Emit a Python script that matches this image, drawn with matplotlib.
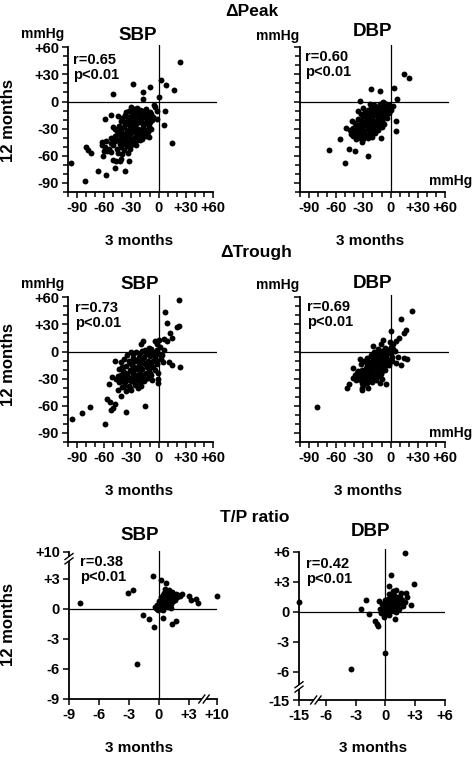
import numpy as np
import matplotlib
matplotlib.use('Agg')
import matplotlib.pyplot as plt

plt.rcParams['font.family'] = 'Liberation Sans'
plt.rcParams['font.weight'] = 'bold'

# values, (3 months, 12 months)
peak_sbp = [
    (24, 44), (3, 24), (8, 18), (17, 13), (-28, 19), (-9, 16), (-17, 10), (-17, 3), (-50, 8), (1, 5),
    (-5, -4), (-4, -6), (-2, -10), (7, -10), (-2, -19), (6, -26), (15, -46), (-11, -39),
    (-97, -68), (-80, -50), (-78, -54), (-75, -57), (-81, -88), (-67, -77), (-58, -81), (-48, -74),
    (-37, -77), (-43, -66), (-50, -65), (-47, -66), (-61, -60), (-59, -50), (-57, -55), (-62, -45),
    (-59, -19), (-53, -15), (-50, -28), (-41, -63), (-33, -66),
    (-30, -6), (-27, -8), (-24, -7), (-21, -9), (-18, -10), (-14, -8), (-10, -12), (-33, -10),
    (-36, -12), (-25, -12), (-20, -13), (-15, -13), (-8, -14),
    (-45, -16), (-40, -18), (-37, -15), (-34, -20), (-31, -17), (-28, -19), (-25, -21), (-22, -18),
    (-19, -20), (-16, -17), (-13, -22), (-10, -19), (-7, -20), (-30, -23), (-24, -24), (-18, -24),
    (-12, -25), (-38, -23),
    (-48, -30), (-44, -27), (-41, -32), (-38, -28), (-35, -33), (-32, -29), (-29, -31), (-26, -27),
    (-23, -30), (-20, -33), (-17, -28), (-14, -31), (-11, -27), (-8, -30), (-36, -36), (-30, -35),
    (-24, -34), (-18, -36),
    (-52, -40), (-48, -38), (-45, -43), (-42, -39), (-39, -44), (-36, -41), (-33, -38), (-30, -42),
    (-27, -40), (-24, -43), (-21, -39), (-18, -41), (-40, -46), (-34, -46), (-28, -45),
    (-62, -48), (-58, -44), (-55, -52), (-50, -48), (-46, -52), (-42, -50), (-38, -54), (-35, -49),
    (-32, -52), (-60, -55), (-52, -56),
    (-28, -10), (-22, -11), (-16, -11), (-12, -16), (-35, -17), (-29, -14), (-23, -16), (-18, -15),
    (-9, -16), (-42, -21), (-36, -25), (-32, -26), (-27, -23), (-21, -22), (-15, -24), (-9, -23),
    (-6, -17), (-46, -33), (-40, -35), (-33, -32), (-27, -33), (-22, -36), (-16, -34), (-12, -34),
    (-44, -36), (-38, -40), (-31, -44), (-25, -38), (-20, -43), (-48, -44), (-43, -47), (-37, -47),
    (-30, -48), (-53, -46), (-45, -57), (-40, -58), (-34, -57), (-25, -48), (-14, -38), (-26, -15),
]
peak_dbp = [
    (14.5, 30), (20.6, 26), (-22, 14), (-12, 12), (3.6, 15), (-34, 1), (7, 2.5), (-8, -1),
    (6, -21), (5.5, -33), (-49, -29), (-56, -41), (-68, -54), (-46, -53), (-39, -55), (-50, -68),
    (-25, -60), (-32, -45), (-11, -40), (-3, -12), (2.5, -5), (-43, -21),
    (-5, -3), (-8, -5), (-12, -3), (-15, -6), (-18, -4), (-22, -7), (-10, -8), (-3, -8), (-6, -11),
    (-14, -10), (-20, -10), (-25, -9), (-28, -12), (-17, -13), (-11, -14), (-8, -16), (-23, -14),
    (-30, -16), (-33, -14), (-26, -18), (-20, -17), (-14, -18), (-10, -20), (-36, -19), (-31, -21),
    (-24, -21), (-18, -22), (-12, -23), (-39, -24), (-34, -25), (-28, -24), (-22, -26), (-16, -26),
    (-41, -29), (-37, -30), (-31, -28), (-25, -30), (-19, -29), (-14, -31), (-40, -34), (-35, -35),
    (-29, -33), (-23, -34), (-17, -35), (-38, -38), (-32, -38), (-26, -37), (-30, -41), (-20, -39),
    (-7, -25), (-4, -18), (-2, -13), (-36, -10), (-42, -33), (-44, -36),
    (-7, -2), (-13, -7), (-19, -8), (-24, -12), (-16, -15), (-5, -14), (-27, -16), (-21, -19),
    (-15, -21), (-9, -22), (-33, -20), (-27, -21), (-20, -24), (-13, -27), (-37, -27), (-32, -31),
    (-26, -27), (-20, -32), (-36, -32), (-28, -36), (-22, -37), (-34, -40), (-25, -40), (-38, -41),
    (-41, -38), (-45, -32), (-18, -31), (-10, -28), (-6, -6), (-2, -4), (0, -9), (-30, -7), (-23, -3),
]
trough_sbp = [
    (22, 57), (7.4, 44), (9, 32), (20, 27), (22, 28), (13, 21), (15, 15.5), (5.6, 13.7), (9, 12),
    (-4, 12), (0, 12.6), (24, -17), (15, -15), (11, -11.5), (-1, -30), (-1, -35),
    (-95.5, -75), (-85, -68), (-76, -61), (-59, -80), (-36, -67), (-15, -60), (-57, -52), (-54, -56),
    (-53, -65), (-50, -62), (-48, -58), (-55, -36), (-41, -49), (-48, -11), (-51, -28), (-17, 12),
    (-19, 8),
    (-5, -2), (-2, 2), (-8, 3), (-12, -1), (-15, 2), (-20, -2), (-25, -1), (-30, 0), (-35, -4),
    (-10, -5), (-4, -6), (-16, -6), (-22, -6), (-28, -7), (-38, -8), (-42, -12), (-33, -11),
    (-26, -11), (-19, -10), (-12, -10), (-6, -11), (-2, -14), (-9, -15), (-15, -14), (-22, -15),
    (-29, -15), (-36, -16), (-44, -19), (-39, -21), (-32, -20), (-25, -19), (-18, -19), (-11, -19),
    (-4, -20), (-14, -24), (-21, -23), (-28, -24), (-35, -25), (-42, -26), (-47, -30), (-40, -30),
    (-33, -29), (-26, -28), (-19, -28), (-12, -29), (-8, -26), (-44, -34), (-37, -34), (-30, -33),
    (-23, -32), (-16, -33), (-40, -39), (-33, -38), (-26, -37), (-19, -38), (-30, -42), (-45, -42),
    (-36, -44), (-7, -31), (0, -3), (3, -8), (5, -12), (-1, -24), (6, 2),
    (-7, 1), (-18, 1), (-28, -3), (-14, -3), (-3, -9), (-24, -9), (-31, -13), (-17, -12), (-8, -13),
    (-40, -17), (-27, -17), (-20, -17), (-13, -17), (-6, -17), (-37, -24), (-30, -22), (-24, -26),
    (-17, -26), (-10, -24), (-45, -27), (-38, -29), (-29, -28), (-22, -30), (-15, -30), (-42, -33),
    (-35, -31), (-27, -34), (-20, -35), (-38, -38), (-31, -40), (-23, -40), (2, 5), (-2, 8), (4, -4),
    (-11, 4),
]
trough_dbp = [
    (23.5, 44.7), (11, 35.6), (0.7, 22.5), (17, 24), (15, 21), (-8, 12.7), (-19, 6), (-11, 8),
    (8, -5.5), (6, -12.7), (11.6, -14.5), (17.7, -8.4), (15, -7), (-81, -61), (-48, -40.7),
    (-46, -36), (-41, -18), (-34, -8), (-32, -40), (-25, -40.7), (-31, -42), (-5.4, -35.6),
    (-12, -34.5), (-2, -14.5),
    (0, 5), (3, 8), (-3, 2), (-6, 4), (-10, 1), (-14, 3), (-18, -1), (-4, -3), (-8, -5), (-12, -4),
    (-16, -6), (-22, -4), (-26, -7), (1, -2), (-2, -9), (-6, -10), (-10, -9), (-14, -11), (-19, -10),
    (-24, -12), (-29, -11), (-33, -14), (-4, -15), (-8, -15), (-12, -16), (-17, -16), (-22, -17),
    (-27, -18), (-31, -20), (-36, -21), (-6, -20), (-10, -22), (-15, -21), (-20, -23), (-25, -24),
    (-30, -25), (-35, -27), (-39, -26), (-13, -27), (-18, -28), (-23, -29), (-28, -30), (-33, -31),
    (-38, -32), (-16, -32), (-21, -34), (-26, -35), (-9, -30), (-42, -29), (2, -6), (5, 1), (-1, 10),
    (6, 12), (9, 15), (-30, -37),
    (-2, -1), (-7, -1), (-12, 0), (-16, -2), (-20, -6), (-9, -7), (-5, -7), (-13, -8), (-17, -12),
    (-22, -13), (-26, -14), (-6, -13), (-10, -13), (-14, -14), (-19, -14), (-24, -19), (-29, -21),
    (-33, -23), (-8, -18), (-12, -19), (-17, -20), (-22, -21), (-27, -22), (-32, -24), (-37, -24),
    (-15, -26), (-20, -26), (-25, -27), (-30, -28), (-35, -30), (-19, -31), (-24, -32), (-28, -33),
    (-32, -35), (-11, -25), (3, 3), (-1, 1), (2, -11),
]
tp_sbp = [
    (-7.9, 0.57), (-3.1, 1.57), (-2.6, 1.83), (-0.63, 3.3), (0.17, 2.83), (0.67, 2.57),
    (-1.57, -0.6), (-1.0, -1.0), (-0.5, -1.83), (0.37, -0.87), (1.33, -1.5), (1.7, -1.2),
    (-2.23, -5.5), (3.0, 1.3), (3.2, 0.9), (3.7, 0.97), (3.93, 0.63), (10, 1.23),
    (-0.3, 0.1), (0, 0.2), (0.2, 0), (0.4, 0.3), (0.1, 0.5), (-0.2, 0.4), (0.5, 0.6), (0.3, 0.9),
    (0.6, 1.2), (0.8, 0.8), (1.0, 1.0), (0.7, 0.4), (0.9, 0.2), (1.2, 0.5), (1.1, 1.4), (0.5, 1.6),
    (0.8, 1.8), (1.3, 1.7), (1.5, 1.2), (1.7, 1.5), (1.9, 1.4), (2.1, 1.3), (1.4, 0.8), (0.2, 1.2),
    (0.0, 0.8), (-0.1, -0.1), (0.4, -0.1), (1.6, 0.9), (1.0, 1.9), (0.6, 2.0), (2.3, 1.5), (0.3, 0.5),
    (0.1, 0.1), (-0.4, 0.2), (1.2, 0.1), (0.9, 1.3), (0.4, 1.4),
    (0.2, 0.3), (0.5, 0.2), (0.7, 0.7), (0.3, 0.7), (1.1, 0.6), (0.9, 1.0), (1.4, 1.3), (0.6, 0.9),
    (0.1, 0.3), (0.8, 1.5), (1.2, 1.6), (0.2, 0.6), (-0.2, 0.0), (0.5, 1.1), (1.8, 1.2),
]
tp_dbp = [
    (-15, 0.95), (1.95, 5.9), (0.58, 3.65), (2.9, 2.75), (0.4, 2.6), (-1.95, 1.2), (-2.45, 0.3),
    (-1.7, -0.26), (-1.0, -0.9), (-0.7, -1.4), (-0.8, -1.2), (0, -4.1), (-3.5, -5.7), (1.0, -0.75),
    (2.55, 0.62), (2.05, 1.86), (2.2, 1.5),
    (-0.5, 0.3), (-0.2, 0.1), (0, 0.5), (0.3, 0.2), (0.5, 0.6), (0.2, 0.9), (-0.3, 0.8), (0.7, 1.0),
    (1.0, 0.8), (0.9, 0.4), (1.2, 1.1), (0.6, 1.4), (0.4, 1.8), (0.9, 1.7), (1.3, 1.5), (1.5, 0.9),
    (1.7, 1.2), (1.8, 0.6), (1.4, 0.3), (0.1, -0.2), (-0.1, -0.5), (0.4, -0.3), (1.1, 0.0), (0.0, 1.2),
    (-0.6, 1.1), (0.8, 2.1), (1.1, 2.2), (0.3, 1.3), (0.6, 0.1), (-0.4, -0.1), (2.0, 1.0), (1.6, 1.9),
    (0.2, 0.4), (0.5, 0.3), (0.8, 0.6), (0.3, 0.6), (0.7, 1.3), (1.0, 1.3), (1.4, 1.0), (0.4, 1.0),
    (0.1, 0.2), (1.2, 0.6), (0.6, 1.7), (-0.1, 0.7), (1.5, 1.5), (0.9, 0.1),
]

bp_ticks = [-90, -60, -30, 0, 30, 60]
bp_labels = ['-90', '-60', '-30', '0', '+30', '+60']
sbp_tp_ticks = [-9, -6, -3, 0, 3, 10]
sbp_tp_labels = ['-9', '-6', '-3', '0', '+3', '+10']
dbp_tp_ticks = [-15, -6, -3, 0, 3, 6]
dbp_tp_labels = ['-15', '-6', '-3', '0', '+3', '+6']
stats = ['r=0.65', 'r=0.60', 'r=0.73', 'r=0.69', 'r=0.38', 'r=0.42']

W, H = 474, 757
fig = plt.figure(figsize=(W / 100, H / 100), dpi=100)


def px_axes(left, top, width, height):
    return fig.add_axes([left / W, 1 - (top + height) / H, width / W, height / H])


def ftext(x, y, s, **kw):
    fig.text(x / W, 1 - y / H, s, **kw)


def style(ax):
    ax.spines['top'].set_visible(False)
    ax.spines['right'].set_visible(False)
    ax.spines['left'].set_linewidth(1.3)
    ax.spines['bottom'].set_linewidth(1.3)
    ax.tick_params(which='both', direction='out', width=1.1, labelsize=10.5, pad=2)
    ax.tick_params(which='major', length=4.5)
    ax.tick_params(which='minor', length=3.5)
    ax.axhline(0, color='k', lw=0.9, zorder=1)
    ax.axvline(0, color='k', lw=0.9, zorder=1)


def dots(ax, pts):
    pts = np.array(pts)
    ax.scatter(pts[:, 0], pts[:, 1], s=18, color='k', linewidths=0, zorder=3, clip_on=False)


def brk(ax, fx, fy, axis):
    # little // marks cutting the axis line
    p = ax.get_position()
    ux, uy = 1 / (p.width * W), 1 / (p.height * H)
    if axis == 'y':
        a, b, g = 4 * ux, 3 * uy, 2.2 * uy
        l1 = [(fx - a, fy - b - g), (fx + a, fy + b - g)]
        l2 = [(fx - a, fy - b + g), (fx + a, fy + b + g)]
    else:
        a, b, g = 3 * ux, 4 * uy, 2.2 * ux
        l1 = [(fx - a - g, fy - b), (fx + a - g, fy + b)]
        l2 = [(fx - a + g, fy - b), (fx + a + g, fy + b)]
    poly = plt.Polygon([l1[0], l1[1], l2[1], l2[0]], closed=True, transform=ax.transAxes,
                       fc='white', ec='none', clip_on=False, zorder=5)
    ax.add_patch(poly)
    for l in (l1, l2):
        ax.plot([l[0][0], l[1][0]], [l[0][1], l[1][1]], transform=ax.transAxes,
                color='k', lw=1, clip_on=False, zorder=6)


# blood pressure panels
bp_sets = [(peak_sbp, 68, 45, True), (peak_dbp, 300, 45, False),
           (trough_sbp, 68, 295, True), (trough_dbp, 300, 295, False)]
for pts, left, top, lab in bp_sets:
    ax = px_axes(left, top, 149, 147)
    style(ax)
    dots(ax, pts)
    ax.set_xlim(-100, 64.5)
    ax.set_ylim(-100, 62.5)
    ax.spines['left'].set_bounds(-100, 60)
    ax.spines['bottom'].set_bounds(-100, 60)
    ax.set_xticks(bp_ticks)
    ax.set_xticklabels(bp_labels)
    ax.set_yticks(bp_ticks)
    ax.set_xticks(np.arange(-100, 61, 10), minor=True)
    ax.set_yticks(np.arange(-100, 61, 10), minor=True)
    if lab:
        ax.set_yticklabels(bp_labels)
    else:
        ax.set_yticklabels([])

# T/P ratio, SBP
ax = px_axes(69, 551, 148, 148)
style(ax)
ax.set_xscale('function', functions=(lambda v: np.where(v <= 4.5, v, 4.5 + (v - 4.5) * 0.2364),
                                     lambda p: np.where(p <= 4.5, p, 4.5 + (p - 4.5) / 0.2364)))
ax.set_yscale('function', functions=(lambda v: np.where(v <= 5, v, 5 + (v - 5) * 0.14),
                                     lambda p: np.where(p <= 5, p, 5 + (p - 5) / 0.14)))
dots(ax, tp_sbp)
ax.set_xlim(-9, 10)
ax.set_ylim(-9, 10.5)
ax.spines['left'].set_bounds(-9, 10)
ax.spines['bottom'].set_bounds(-9, 10)
ax.set_xticks(sbp_tp_ticks)
ax.set_xticklabels(sbp_tp_labels)
ax.set_yticks(sbp_tp_ticks)
ax.set_yticklabels(sbp_tp_labels)
ax.set_xticks([], minor=True)
ax.set_yticks([], minor=True)
brk(ax, 0, (5 + 9) / 14.77, 'y')
brk(ax, (4.5 + 9) / 14.8, 0, 'x')

# T/P ratio, DBP
ax = px_axes(299, 549, 146, 151)
style(ax)
ax.set_xscale('function', functions=(lambda v: np.where(v >= -7, v, -7 + (v + 7) * 0.2125),
                                     lambda p: np.where(p >= -7, p, -7 + (p + 7) / 0.2125)))
ax.set_yscale('function', functions=(lambda v: np.where(v >= -7.5, v, -7.5 + (v + 7.5) * 0.1733),
                                     lambda p: np.where(p >= -7.5, p, -7.5 + (p + 7.5) / 0.1733)))
dots(ax, tp_dbp)
ax.set_xlim(-15, 6)
ax.set_ylim(-15, 6.25)
ax.spines['left'].set_bounds(-15, 6)
ax.spines['bottom'].set_bounds(-15, 6)
ax.set_xticks(dbp_tp_ticks)
ax.set_xticklabels(dbp_tp_labels)
ax.set_yticks(dbp_tp_ticks)
ax.set_yticklabels(dbp_tp_labels)
ax.set_xticks([], minor=True)
ax.set_yticks([], minor=True)
brk(ax, 0, (-7.5 + 8.8) / 15.05, 'y')
brk(ax, (-7 + 8.7) / 14.7, 0, 'x')

# texts
ftext(252, 11, '\u0394Peak', ha='center', va='center', fontsize=12.5)
ftext(256, 253, '\u0394Trough', ha='center', va='center', fontsize=12.5)
ftext(255, 518, 'T/P ratio', ha='center', va='center', fontsize=12.5)
for x, y, s in [(138, 35, 'SBP'), (373, 32, 'DBP'), (140, 285, 'SBP'), (372, 283, 'DBP'),
                (140, 535, 'SBP'), (371, 532, 'DBP')]:
    ftext(x, y, s, ha='center', va='center', fontsize=13.5)
for x, y in [(43, 34), (278, 36), (43, 284), (278, 285), (451, 181), (451, 433)]:
    ftext(x, y, 'mmHg', ha='center', va='center', fontsize=10)
for y in [121, 365, 625]:
    ftext(9, y, '12 months', ha='center', va='center', rotation=90, fontsize=12)
for x, y in [(139, 241), (370, 241), (139, 491), (368, 491), (139, 748), (373, 748)]:
    ftext(x, y, '3 months', ha='center', va='center', fontsize=11)
for (x, y), s in zip([(73, 60), (305, 57), (75, 308), (307, 307), (80, 562), (306, 564)], stats):
    ftext(x, y, s, ha='left', va='center', fontsize=10.5)
    ftext(x, y + 15, 'p<0.01', ha='left', va='center', fontsize=10.5)

fig.savefig('out.png', dpi=100)
